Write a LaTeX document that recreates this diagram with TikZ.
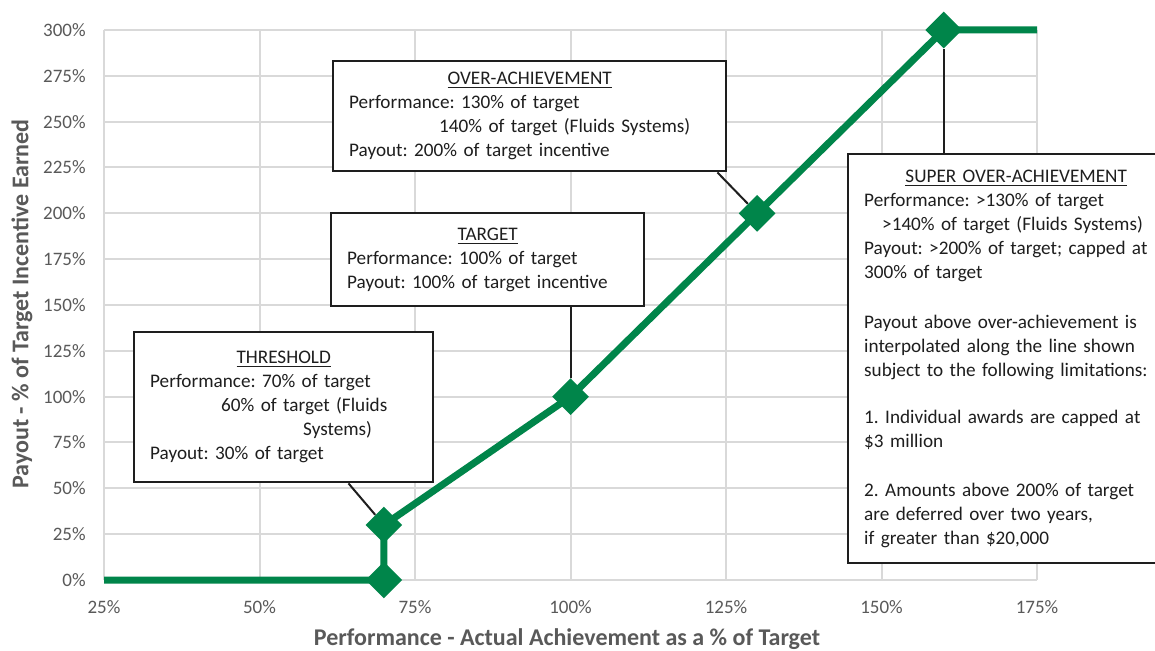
\documentclass[tikz,border=0pt]{standalone}
\usepackage{fontspec}
\setmainfont{Carlito}
\frenchspacing
\usetikzlibrary{shapes.geometric,calc}
\definecolor{payline}{HTML}{00854A}
\definecolor{gridgray}{HTML}{D9D9D9}
\definecolor{ticktext}{HTML}{595959}
\definecolor{boxtext}{HTML}{1E1E1E}
\tikzset{
  callbox/.style={draw=boxtext,line width=1.2pt,fill=white,anchor=north west,align=left,
    inner xsep=8pt,inner ysep=0pt,text=boxtext,font=\fontsize{9.6}{12}\selectfont},
  marker/.style={diamond,fill=payline,minimum width=18.5pt,minimum height=18.5pt,inner sep=0pt},
  pointer/.style={line width=1pt,boxtext},
  gridline/.style={gridgray,line width=1pt},
  ticklabel/.style={text=ticktext,inner sep=0pt,font=\fontsize{9.5}{11}\selectfont},
  axistitle/.style={text=ticktext,inner sep=0pt,font=\fontsize{12}{14}\selectfont\bfseries}
}
\begin{document}
\begin{tikzpicture}[x=0.5pt,y=-0.5pt]
  \useasboundingbox[fill=white] (0,0) rectangle (1155,651);

  % plot area, in data units (% achieved, % paid)
  \begin{scope}[shift={(-51.5,580)},x=3.11pt,y=0.916667pt]
    % grid
    \foreach \gx in {25,50,...,175}
      \draw[gridline] (\gx,0) -- (\gx,300);
    \foreach \gy in {0,25,...,300}
      \draw[gridline] (25,\gy) -- (175,\gy);

    % tick labels
    \foreach \gy in {0,25,...,300}
      \node[ticklabel,anchor=east,xshift=-9pt] (yt\gy) at (25,\gy) {\gy\%};
    \foreach \gx in {25,50,...,175}
      \node[ticklabel,anchor=north,yshift=-10pt] (xt\gx) at (\gx,0) {\gx\%};

    % payout curve
    \coordinate (p1) at (70,0);
    \coordinate (p2) at (70,30);
    \coordinate (p3) at (100,100);
    \coordinate (p4) at (130,200);
    \coordinate (p5) at (160,300);
    \draw[payline,line width=3.5pt,line join=round]
      (25,0) -- (p1) -- (p2) -- (p3) -- (p4) -- (p5) -- (175,300);
  \end{scope}

  % axis titles
  \node[axistitle,rotate=90] (ytitle) at (22,304) {Payout - \% of Target Incentive Earned};
  \node[axistitle] (xtitle) at (567,639) {Performance - Actual Achievement as a \% of Target};

  % call-out boxes
  \node[callbox,text width=133.5pt,minimum height=75pt] (thr) at (133,331)
    {{\centering\underline{THRESHOLD}\par}
     Performance: 70\% of target\\
     \hspace*{35.5pt}60\% of target (Fluids\\
     \hspace*{76.5pt}Systems)\\
     Payout: 30\% of target};
  \node[callbox,text width=140.5pt,minimum height=46.5pt] (tgt) at (330,212)
    {{\centering\underline{TARGET}\par}
     Performance: 100\% of target\\
     Payout: 100\% of target incentive};
  \node[callbox,text width=180.5pt,minimum height=55pt] (over) at (332,60)
    {{\centering\underline{OVER-ACHIEVEMENT}\par}
     Performance: 130\% of target\\
     \hspace*{45pt}140\% of target (Fluids Systems)\\
     Payout: 200\% of target incentive};
  \node[callbox,text width=152pt,minimum height=204.5pt] (sup) at (847,153)
    {{\centering\underline{SUPER OVER-ACHIEVEMENT}\par}
     Performance: >130\% of target\\
     \hspace*{9pt}>140\% of target (Fluids Systems)\\
     Payout: >200\% of target; capped at\\
     300\% of target\\[13pt]
     Payout above over-achievement is\\
     interpolated along the line shown\\
     subject to the following limitations:\\[11.5pt]
     1. Individual awards are capped at\\
     \$3 million\\[12.5pt]
     2. Amounts above 200\% of target\\
     are deferred over two years,\\
     if greater than \$20,000};

  % markers
  \foreach \i in {1,...,5}
    \node[marker] (m\i) at (p\i) {};

  % pointers
  \draw[pointer] (thr) -- (m2);
  \draw[pointer] (tgt.south -| m3) -- (m3);
  \draw[pointer] ($(over.south east)+(-10,0)$) -- (m4);
  \draw[pointer] (m5) -- (sup.north -| m5);
\end{tikzpicture}
\end{document}
